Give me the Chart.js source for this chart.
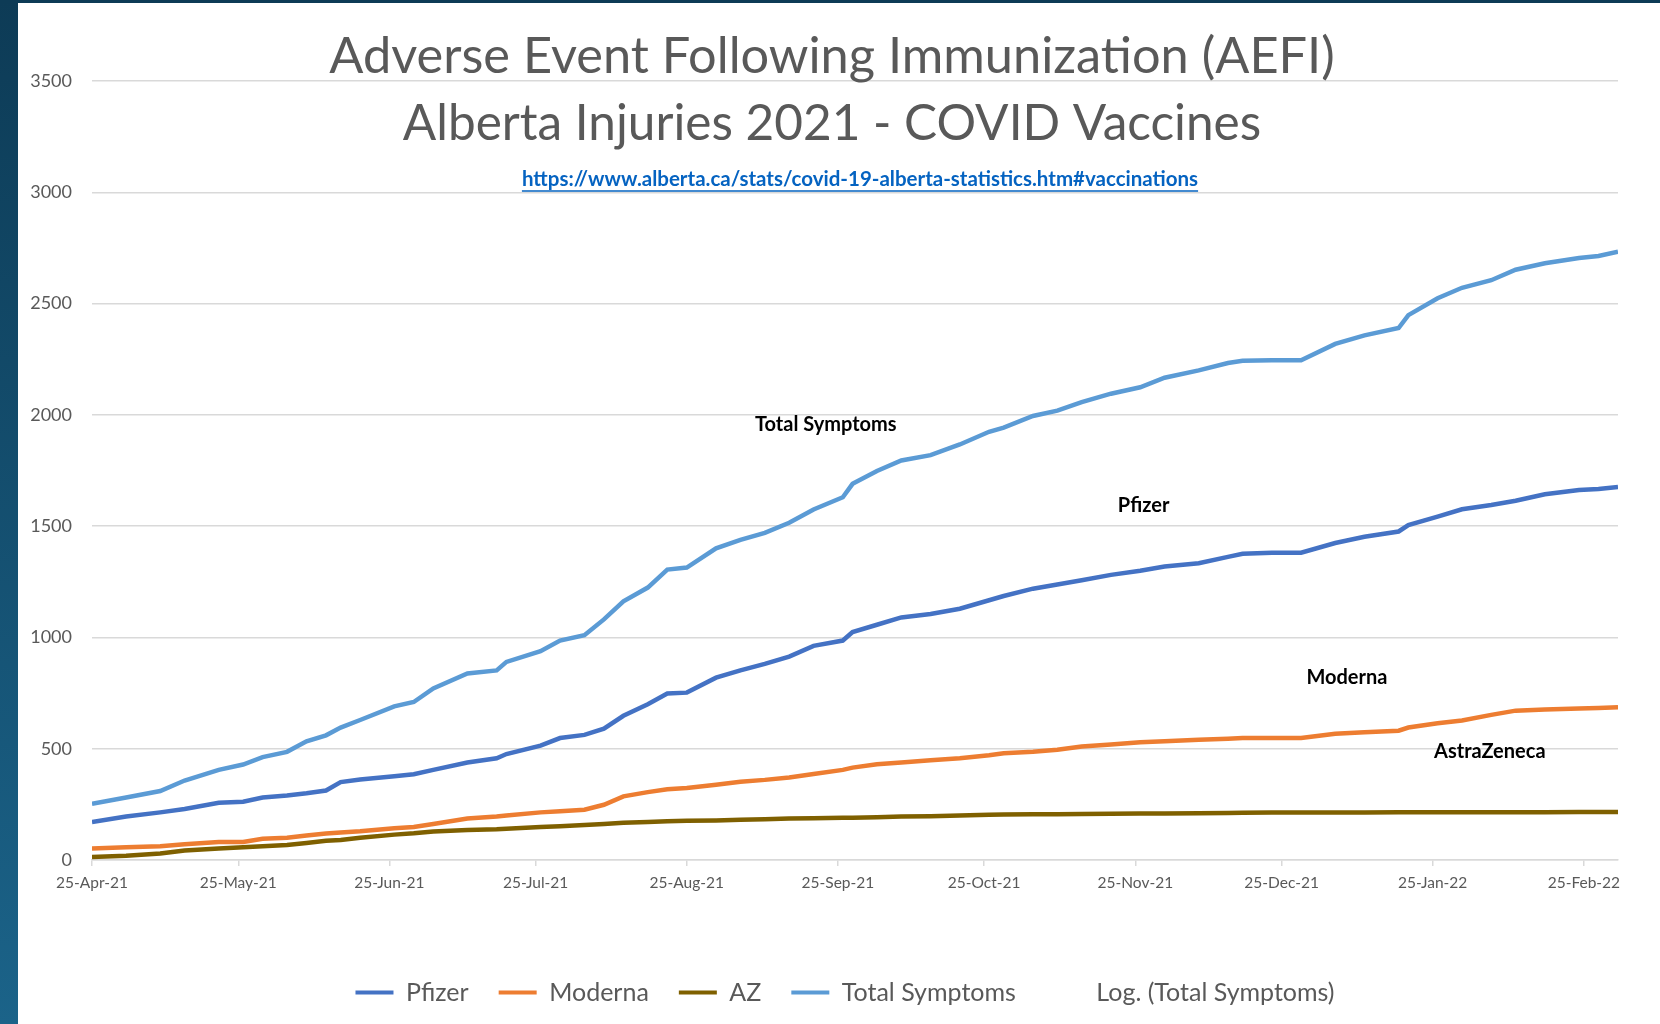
<!DOCTYPE html>
<html>
<head>
<meta charset="utf-8">
<script src="https://cdn.jsdelivr.net/npm/chart.js@4.4.1/dist/chart.umd.min.js"></script>
<style>
  html, body { margin: 0; padding: 0; background: #fff; }
  canvas { position: absolute; left: 0; top: 0; }
</style>
</head>
<body>
<canvas id="myChart" width="1660" height="1024"></canvas>
<script>
// days since 25-Apr-21
var days = [0, 7, 14, 19, 26, 31, 35, 40, 44, 48, 51, 55, 62, 66, 70, 77, 83, 85, 92, 96,
  101, 105, 109, 114, 118, 122, 128, 133, 138, 143, 148, 154, 156, 161, 166, 172, 178, 184, 187, 193,
  198, 203, 209, 215, 220, 227, 233, 236, 242, 248, 255, 261, 268, 270, 276, 281, 287, 292, 298, 305,
  309, 313];

var pfizer = [171, 195, 214, 229, 257, 262, 281, 290, 300, 312, 350, 362, 376, 385, 405, 438, 457, 476, 514, 548,
  562, 590, 648, 700, 748, 752, 819, 852, 881, 914, 962, 986, 1024, 1057, 1090, 1105, 1129, 1167, 1186, 1219,
  1238, 1257, 1281, 1300, 1319, 1333, 1362, 1376, 1380, 1381, 1424, 1452, 1476, 1505, 1543, 1576, 1595, 1614, 1643, 1662,
  1667, 1676];

var moderna = [52, 57, 62, 71, 81, 81, 95, 100, 110, 119, 124, 129, 143, 148, 162, 186, 195, 200, 214, 219,
  226, 248, 286, 305, 318, 324, 338, 352, 360, 371, 386, 405, 415, 430, 438, 448, 457, 471, 480, 486,
  495, 510, 519, 529, 533, 540, 545, 548, 548, 548, 567, 574, 581, 595, 614, 627, 652, 671, 676, 681,
  683, 686];

var az = [14, 19, 29, 43, 52, 57, 62, 67, 76, 86, 90, 100, 114, 120, 128, 135, 138, 140, 148, 152,
  157, 162, 167, 171, 174, 176, 178, 181, 183, 186, 188, 190, 190, 192, 195, 197, 200, 203, 204, 205,
  206, 207, 208, 209, 209, 210, 211, 212, 213, 213, 213, 213, 214, 214, 215, 215, 215, 215, 215, 216,
  216, 216];

var totalSymptoms = [252, 281, 310, 357, 405, 429, 462, 486, 533, 560, 595, 629, 690, 710, 771, 838, 852, 890, 938, 986,
  1010, 1081, 1162, 1224, 1305, 1314, 1400, 1438, 1470, 1515, 1575, 1630, 1690, 1748, 1795, 1819, 1867, 1924, 1943, 1995,
  2019, 2057, 2095, 2124, 2167, 2200, 2233, 2243, 2245, 2245, 2319, 2357, 2390, 2448, 2524, 2571, 2605, 2652, 2681, 2705,
  2714, 2733];

var tickDays = [0, 30, 61, 91, 122, 153, 183, 214, 244, 275, 306];
var tickLabels = ['25-Apr-21', '25-May-21', '25-Jun-21', '25-Jul-21', '25-Aug-21', '25-Sep-21',
  '25-Oct-21', '25-Nov-21', '25-Dec-21', '25-Jan-22', '25-Feb-22'];

var FONT = 'Lato, "Open Sans", sans-serif';
var GREY = '#595959';

function pts(values) {
  return days.map(function (d, i) { return { x: d, y: values[i] }; });
}

function lineSet(label, values, color) {
  return {
    label: label,
    data: pts(values),
    borderColor: color,
    backgroundColor: color,
    borderWidth: 4.5,
    pointRadius: 0,
    tension: 0,
    fill: false
  };
}

// dark frame on the left and top
var framePlugin = {
  id: 'frame',
  beforeDraw: function (chart) {
    var ctx = chart.ctx;
    ctx.save();
    ctx.fillStyle = '#ffffff';
    ctx.fillRect(0, 0, chart.width, chart.height);
    var g = ctx.createLinearGradient(0, 0, 0, chart.height);
    g.addColorStop(0, '#0d3b56');
    g.addColorStop(1, '#1b6389');
    ctx.fillStyle = g;
    ctx.fillRect(0, 0, 18, chart.height);
    ctx.fillStyle = '#0d3b56';
    ctx.fillRect(0, 0, chart.width, 3);
    ctx.restore();
  },
  afterLayout: function (chart) {
    // legend sits a bit right of centre in the original
    var lg = chart.legend;
    lg.left += 27;
    lg.right += 27;
  }
};

// titles and series labels
var textPlugin = {
  id: 'texts',
  afterDraw: function (chart) {
    var ctx = chart.ctx;
    var x = chart.scales.x, y = chart.scales.y;
    ctx.save();
    ctx.textAlign = 'center';
    ctx.textBaseline = 'middle';

    ctx.fillStyle = GREY;
    ctx.font = '50.5px ' + FONT;
    ctx.fillText('Adverse Event Following Immunization (AEFI)', 832, 57);
    ctx.font = '49.5px ' + FONT;
    ctx.fillText('Alberta Injuries 2021 - COVID Vaccines', 832, 124);

    var link = 'https://www.alberta.ca/stats/covid-19-alberta-statistics.htm#vaccinations';
    ctx.fillStyle = '#0563c1';
    ctx.font = 'bold 20.5px ' + FONT;
    ctx.fillText(link, 860, 179);
    var w = ctx.measureText(link).width;
    ctx.strokeStyle = '#0563c1';
    ctx.lineWidth = 1.5;
    ctx.beginPath();
    ctx.moveTo(860 - w / 2, 191);
    ctx.lineTo(860 + w / 2, 191);
    ctx.stroke();

    ctx.fillStyle = '#000000';
    ctx.font = 'bold 20px ' + FONT;
    [['Total Symptoms', 150.5, 1958], ['Pfizer', 215.7, 1592],
     ['Moderna', 257.4, 821], ['AstraZeneca', 286.7, 488]].forEach(function (t) {
      ctx.fillText(t[0], x.getPixelForValue(t[1]), y.getPixelForValue(t[2]));
    });
    ctx.restore();
  }
};

new Chart('myChart', {
  type: 'line',
  data: {
    datasets: [
      lineSet('Pfizer', pfizer, '#4472c4'),
      lineSet('Moderna', moderna, '#ed7d31'),
      lineSet('AZ', az, '#7f6000'),
      lineSet('Total Symptoms', totalSymptoms, '#5b9bd5'),
      {
        label: 'Log. (Total Symptoms)',
        data: [],
        borderColor: 'rgba(0,0,0,0)',
        backgroundColor: 'rgba(0,0,0,0)',
        borderWidth: 0,
        pointRadius: 0
      }
    ]
  },
  options: {
    responsive: false,
    animation: false,
    layout: {
      padding: { top: 81, right: 42, left: 18, bottom: 9 }
    },
    plugins: {
      legend: {
        position: 'bottom',
        labels: {
          font: { family: FONT, size: 25 },
          color: GREY,
          boxWidth: 38,
          boxHeight: 4,
          padding: 30,
          generateLabels: function (chart) {
            var items = Chart.defaults.plugins.legend.labels.generateLabels(chart);
            items.forEach(function (it) {
              it.lineWidth = 0;
              it.fillStyle = it.strokeStyle;
            });
            return items;
          }
        }
      },
      title: { display: false },
      tooltip: { enabled: false }
    },
    scales: {
      x: {
        type: 'linear',
        min: 0,
        max: 313,
        afterBuildTicks: function (scale) {
          scale.ticks = tickDays.map(function (d) { return { value: d }; });
        },
        afterFit: function (scale) { scale.height = 90; },
        ticks: {
          autoSkip: false,
          maxRotation: 0,
          padding: 8,
          color: GREY,
          font: { family: FONT, size: 15.5 },
          callback: function (v, i) { return tickLabels[i]; }
        },
        grid: {
          drawOnChartArea: false,
          drawTicks: true,
          tickLength: 6,
          color: '#d9d9d9',
          lineWidth: 1.5
        },
        border: { color: '#d9d9d9', width: 1.5 }
      },
      y: {
        min: 0,
        max: 3500,
        afterFit: function (scale) { scale.width = 74; },
        ticks: {
          stepSize: 500,
          padding: 20,
          color: GREY,
          font: { family: FONT, size: 18 },
          callback: function (v) { return String(v); }
        },
        grid: {
          color: '#d9d9d9',
          lineWidth: 1.5,
          drawTicks: false
        },
        border: { display: false }
      }
    }
  },
  plugins: [framePlugin, textPlugin]
});
</script>
</body>
</html>
